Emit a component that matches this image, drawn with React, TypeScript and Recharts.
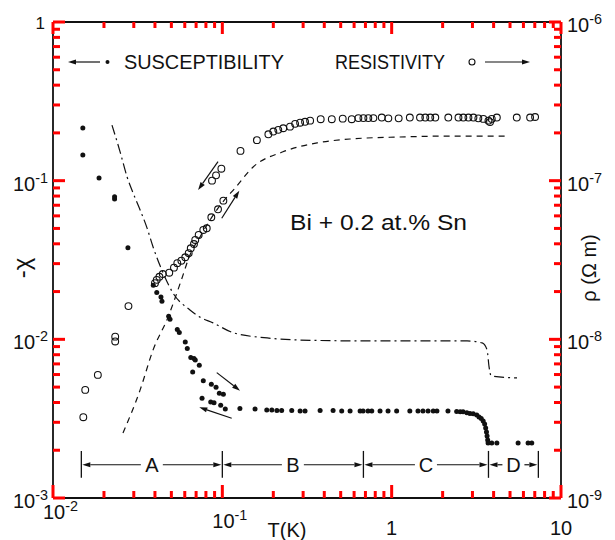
import React from "react";
import { ComposedChart, XAxis, YAxis, Scatter, Line, ReferenceLine } from "recharts";

const FONT = '"Liberation Sans", Arial, Helvetica, sans-serif';
const INK = "#111";
const TICK_INK = "red";

// axis ticks (all log decades with their 2..9 subdivisions)
const tempTicks = [
  0.01, 0.02, 0.03, 0.04, 0.05, 0.06, 0.07, 0.08, 0.09,
  0.1, 0.2, 0.3, 0.4, 0.5, 0.6, 0.7, 0.8, 0.9,
  1, 2, 3, 4, 5, 6, 7, 8, 9, 10,
];
const chiTicks = [
  0.001, 0.002, 0.003, 0.004, 0.005, 0.006, 0.007, 0.008, 0.009,
  0.01, 0.02, 0.03, 0.04, 0.05, 0.06, 0.07, 0.08, 0.09,
  0.1, 0.2, 0.3, 0.4, 0.5, 0.6, 0.7, 0.8, 0.9, 1,
];
const rhoTicks = [
  1e-9, 2e-9, 3e-9, 4e-9, 5e-9, 6e-9, 7e-9, 8e-9, 9e-9,
  1e-8, 2e-8, 3e-8, 4e-8, 5e-8, 6e-8, 7e-8, 8e-8, 9e-8,
  1e-7, 2e-7, 3e-7, 4e-7, 5e-7, 6e-7, 7e-7, 8e-7, 9e-7, 1e-6,
];

// susceptibility -chi vs T(K)  (filled dots)
const suscPoints: [number, number][] = [
  [0.0150, 0.215], [0.0150, 0.145], [0.0187, 0.104], [0.0231, 0.0793], [0.0231, 0.0767],
  [0.0277, 0.0378], [0.0391, 0.0219], [0.0410, 0.0197], [0.0434, 0.0185], [0.0440, 0.0174],
  [0.0482, 0.0140], [0.0491, 0.0134], [0.0542, 0.01155], [0.0557, 0.01105], [0.0604, 0.00963],
  [0.0621, 0.00877], [0.0651, 0.00767], [0.0680, 0.00756], [0.0692, 0.00742], [0.0731, 0.00687],
  [0.0668, 0.00623], [0.0772, 0.00549], [0.0861, 0.00522], [0.0918, 0.00499], [0.0960, 0.00457],
  [0.1014, 0.00451], [0.0759, 0.00425], [0.0854, 0.00403], [0.0893, 0.00399], [0.0978, 0.00384],
  [0.1041, 0.00364], [0.127, 0.00367], [0.156, 0.00364], [0.183, 0.00359], [0.196, 0.00359],
  [0.210, 0.00356], [0.224, 0.00356], [0.257, 0.00356], [0.288, 0.00354], [0.308, 0.00354],
  [0.378, 0.00356], [0.451, 0.00356], [0.507, 0.00354], [0.568, 0.00354], [0.651, 0.00354],
  [0.678, 0.00354], [0.725, 0.00354], [0.763, 0.00354], [0.854, 0.00354], [0.952, 0.00354],
  [1.07, 0.00354], [1.28, 0.00354], [1.43, 0.00354], [1.53, 0.00354], [1.64, 0.00354],
  [1.76, 0.00354], [1.85, 0.00354], [2.15, 0.00354], [2.42, 0.00351], [2.54, 0.00349],
  [2.64, 0.00349], [2.78, 0.00344], [2.90, 0.00341], [3.03, 0.00339], [3.18, 0.00334],
  [3.28, 0.00324], [3.38, 0.00317], [3.47, 0.00306], [3.54, 0.00293], [3.59, 0.00276],
  [3.63, 0.00261], [3.66, 0.00246], [3.69, 0.00232], [3.71, 0.00222], [3.90, 0.00222],
  [4.18, 0.00222], [5.58, 0.00222], [6.39, 0.00222], [6.72, 0.00222],
];

// resistivity rho (ohm m) vs T(K)  (open circles)
const resPoints: [number, number][] = [
  [0.0151, 3.23e-9], [0.0155, 4.8e-9], [0.0184, 5.97e-9], [0.0233, 1.04e-8], [0.0233, 9.7e-9],
  [0.0279, 1.62e-8], [0.0400, 2.26e-8], [0.0410, 2.37e-8], [0.0425, 2.48e-8], [0.0445, 2.58e-8],
  [0.0486, 2.63e-8], [0.0518, 2.83e-8], [0.0542, 3.02e-8], [0.0573, 3.13e-8], [0.0604, 3.29e-8],
  [0.0633, 3.49e-8], [0.0651, 3.75e-8], [0.0680, 3.99e-8], [0.0692, 4.23e-8], [0.0725, 4.55e-8],
  [0.0772, 4.89e-8], [0.0809, 5.01e-8], [0.0861, 5.88e-8], [0.0943, 6.6e-8], [0.1014, 7.48e-8],
  [0.0869, 1.0e-7], [0.0918, 1.08e-7], [0.0987, 1.19e-7], [0.128, 1.54e-7], [0.160, 1.8e-7],
  [0.187, 1.96e-7], [0.200, 2.04e-7], [0.214, 2.09e-7], [0.229, 2.14e-7], [0.251, 2.19e-7],
  [0.269, 2.28e-7], [0.288, 2.32e-7], [0.308, 2.35e-7], [0.330, 2.39e-7], [0.381, 2.44e-7],
  [0.443, 2.44e-7], [0.514, 2.46e-7], [0.581, 2.44e-7], [0.636, 2.48e-7], [0.681, 2.48e-7],
  [0.728, 2.48e-7], [0.780, 2.48e-7], [0.874, 2.5e-7], [0.956, 2.47e-7], [1.10, 2.47e-7],
  [1.28, 2.5e-7], [1.47, 2.5e-7], [1.58, 2.5e-7], [1.69, 2.5e-7], [1.81, 2.5e-7],
  [2.16, 2.5e-7], [2.48, 2.5e-7], [2.65, 2.5e-7], [2.84, 2.5e-7], [3.04, 2.5e-7],
  [3.25, 2.47e-7], [3.48, 2.45e-7], [3.73, 2.39e-7], [3.81, 2.34e-7], [3.90, 2.45e-7],
  [4.18, 2.5e-7], [5.48, 2.5e-7], [6.57, 2.5e-7], [7.03, 2.52e-7],
];

// dashed curve, read against the rho axis
const dashCurve: [number, number][] = [
  [0.0259, 2.57e-9], [0.0327, 4.8e-9], [0.0390, 8.58e-9], [0.0478, 1.38e-8], [0.0570, 2.33e-8],
  [0.0644, 3.4e-8], [0.0738, 4.42e-8], [0.0846, 5.65e-8], [0.0996, 7.24e-8], [0.119, 8.99e-8],
  [0.152, 1.22e-7], [0.228, 1.52e-7], [0.363, 1.73e-7], [0.568, 1.83e-7], [1.12, 1.885e-7],
  [2.21, 1.91e-7], [4.68, 1.91e-7],
];

// dash-dot curve, read against the -chi axis
const dashDotCurve: [number, number][] = [
  [0.0223, 0.224], [0.0249, 0.152], [0.0274, 0.1055], [0.0297, 0.0837], [0.0327, 0.0654],
  [0.0359, 0.0504], [0.0390, 0.0382], [0.0447, 0.0262], [0.0511, 0.0196], [0.0644, 0.0153],
  [0.0738, 0.0138], [0.0881, 0.0127], [0.116, 0.011], [0.184, 0.0102], [0.288, 0.0099],
  [0.716, 0.00977], [2.79, 0.00977], [3.42, 0.00949], [3.66, 0.00858], [3.76, 0.0067],
  [3.87, 0.00588], [5.5, 0.00571],
];

// temperature ranges A-D marked along the bottom
const regionEdges = [0.0147, 0.1, 0.681, 3.73, 7.35];
const regionNames = ["A", "B", "C", "D"];
const regionLevel = 0.00162;
const regionBar = [0.00198, 0.00134];

// hysteresis arrows [T0, y0, T1, y1] on the -chi axis
const loopArrows: [number, number, number, number][] = [
  [0.0943, 0.1317, 0.0719, 0.0874],
  [0.0992, 0.058, 0.126, 0.0865],
  [0.0927, 0.00617, 0.1272, 0.00475],
  [0.1136, 0.00318, 0.0731, 0.00373],
];

const expOf = (v: number) => Math.round(Math.log10(v));
const isMajor = (v: number) => Math.abs(Math.log10(v) - expOf(v)) < 1e-6;

function PowText({ x, y, v, anchor, size = 20 }: any) {
  const e = expOf(v);
  const common = { x, y, textAnchor: anchor, fontSize: size, fontFamily: FONT, fill: INK };
  if (e === 0) return <text {...common}>1</text>;
  if (e === 1) return <text {...common}>10</text>;
  return (
    <text {...common}>
      10<tspan dy={-8} fontSize={size * 0.72}>{"-" + Math.abs(e)}</tspan>
    </text>
  );
}

// tick marks are drawn inward from the frame
function BottomTick(p: any) {
  const { x, y, payload } = p;
  const v = payload.value;
  const major = isMajor(v);
  const e = expOf(v);
  const dy = e === -2 ? 21 : e === -1 ? 30 : 37;
  return (
    <g>
      <line x1={x} y1={y} x2={x} y2={y - (major ? 13 : 7)} stroke={TICK_INK} strokeWidth={3} />
      {major &&
        (e < 0 ? (
          <PowText x={x - 10} y={y + dy} v={v} anchor="start" />
        ) : (
          <PowText x={x} y={y + dy} v={v} anchor="middle" />
        ))}
    </g>
  );
}

function TopTick(p: any) {
  const { x, y, payload } = p;
  const major = isMajor(payload.value);
  return <line x1={x} y1={y} x2={x} y2={y + (major ? 12 : 6)} stroke={TICK_INK} strokeWidth={3} />;
}

function LeftTick(p: any) {
  const { x, y, payload } = p;
  const v = payload.value;
  const major = isMajor(v);
  const e = expOf(v);
  return (
    <g>
      <line x1={x} y1={y} x2={x + (major ? 12 : 7)} y2={y} stroke={TICK_INK} strokeWidth={3} />
      {major &&
        (e === 0 ? (
          <PowText x={x - 8} y={y + 7} v={v} anchor="end" size={17} />
        ) : (
          <PowText x={x - 5} y={y + 10} v={v} anchor="end" />
        ))}
    </g>
  );
}

function RightTick(p: any) {
  const { x, y, payload } = p;
  const v = payload.value;
  const major = isMajor(v);
  return (
    <g>
      <line x1={x} y1={y} x2={x - (major ? 12 : 7)} y2={y} stroke={TICK_INK} strokeWidth={3} />
      {major && <PowText x={x + 6} y={y + 10} v={v} anchor="start" />}
    </g>
  );
}

function arrowHead(x1: number, y1: number, x2: number, y2: number, len = 8, half = 2.6) {
  const a = Math.atan2(y2 - y1, x2 - x1);
  const bx = x2 - len * Math.cos(a);
  const by = y2 - len * Math.sin(a);
  const px = -Math.sin(a) * half;
  const py = Math.cos(a) * half;
  return { bx, by, pts: `${x2},${y2} ${bx + px},${by + py} ${bx - px},${by - py}` };
}

function ArrowShape({ x1, y1, x2, y2 }: any) {
  const h = arrowHead(x1, y1, x2, y2);
  return (
    <g>
      <line x1={x1} y1={y1} x2={h.bx} y2={h.by} stroke={INK} strokeWidth={1.2} />
      <polygon points={h.pts} fill={INK} />
    </g>
  );
}

function RegionShape({ x1, y1, x2, name }: any) {
  const mid = (x1 + x2) / 2;
  const gap = 11;
  return (
    <g>
      <ArrowShape x1={mid - gap} y1={y1} x2={x1 + 1} y2={y1} />
      <ArrowShape x1={mid + gap} y1={y1} x2={x2 - 1} y2={y1} />
      <text x={mid} y={y1 + 7} textAnchor="middle" fontSize={20} fontFamily={FONT} fill={INK}>
        {name}
      </text>
    </g>
  );
}

export default function App() {
  const chiData = suscPoints.map(([t, v]) => ({ t, v }));
  const rhoData = resPoints.map(([t, v]) => ({ t, v }));
  const dashData = dashCurve.map(([t, v]) => ({ t, v }));
  const dashDotData = dashDotCurve.map(([t, v]) => ({ t, v }));
  const axisLine = { stroke: INK, strokeWidth: 1.8 };

  return (
    <div style={{ position: "absolute", left: 0, top: 0, width: 615, height: 540, background: "#fff" }}>
      <ComposedChart width={615} height={540} margin={{ top: 21, right: 14, bottom: 12, left: 13 }}>
        <XAxis
          xAxisId="b"
          dataKey="t"
          type="number"
          scale="log"
          domain={[0.01, 10]}
          allowDataOverflow
          ticks={tempTicks}
          interval={0}
          height={30}
          tickSize={0}
          tickMargin={0}
          tickLine={false}
          axisLine={axisLine}
          tick={(p: any) => <BottomTick {...p} />}
        />
        <XAxis
          xAxisId="t"
          orientation="top"
          dataKey="t"
          type="number"
          scale="log"
          domain={[0.01, 10]}
          allowDataOverflow
          ticks={tempTicks}
          interval={0}
          height={1}
          tickSize={0}
          tickMargin={0}
          tickLine={false}
          axisLine={axisLine}
          tick={(p: any) => <TopTick {...p} />}
        />
        <YAxis
          yAxisId="chi"
          dataKey="v"
          type="number"
          scale="log"
          domain={[0.001, 1]}
          allowDataOverflow
          ticks={chiTicks}
          interval={0}
          width={40}
          tickSize={0}
          tickMargin={0}
          tickLine={false}
          axisLine={axisLine}
          tick={(p: any) => <LeftTick {...p} />}
        />
        <YAxis
          yAxisId="rho"
          orientation="right"
          dataKey="v"
          type="number"
          scale="log"
          domain={[1e-9, 1e-6]}
          allowDataOverflow
          ticks={rhoTicks}
          interval={0}
          width={40}
          tickSize={0}
          tickMargin={0}
          tickLine={false}
          axisLine={axisLine}
          tick={(p: any) => <RightTick {...p} />}
        />

        <Line
          xAxisId="b"
          yAxisId="rho"
          data={dashData}
          dataKey="v"
          type="monotone"
          stroke={INK}
          strokeWidth={1.2}
          strokeDasharray="6 5"
          dot={false}
          activeDot={false}
          isAnimationActive={false}
        />
        <Line
          xAxisId="b"
          yAxisId="chi"
          data={dashDotData}
          dataKey="v"
          type="monotone"
          stroke={INK}
          strokeWidth={1.2}
          strokeDasharray="10 4 2 4"
          dot={false}
          activeDot={false}
          isAnimationActive={false}
        />
        <Scatter
          xAxisId="b"
          yAxisId="chi"
          data={chiData}
          dataKey="v"
          isAnimationActive={false}
          shape={(p: any) => <circle cx={p.cx} cy={p.cy} r={2.5} fill={INK} />}
        />
        <Scatter
          xAxisId="b"
          yAxisId="rho"
          data={rhoData}
          dataKey="v"
          isAnimationActive={false}
          shape={(p: any) => <circle cx={p.cx} cy={p.cy} r={3.4} fill="none" stroke={INK} strokeWidth={1.1} />}
        />

        {regionEdges.map((t) => (
          <ReferenceLine
            key={"bar" + t}
            xAxisId="b"
            yAxisId="chi"
            segment={[{ x: t, y: regionBar[0] }, { x: t, y: regionBar[1] }]}
            stroke={INK}
            strokeWidth={1.3}
          />
        ))}
        {regionNames.map((name, i) => (
          <ReferenceLine
            key={"reg" + name}
            xAxisId="b"
            yAxisId="chi"
            segment={[{ x: regionEdges[i], y: regionLevel }, { x: regionEdges[i + 1], y: regionLevel }]}
            shape={(p: any) => <RegionShape {...p} name={name} />}
          />
        ))}
        {loopArrows.map(([t0, y0, t1, y1], i) => (
          <ReferenceLine
            key={"loop" + i}
            xAxisId="b"
            yAxisId="chi"
            segment={[{ x: t0, y: y0 }, { x: t1, y: y1 }]}
            shape={(p: any) => <ArrowShape {...p} />}
          />
        ))}
      </ComposedChart>

      <svg
        width={615}
        height={540}
        style={{ position: "absolute", left: 0, top: 0, pointerEvents: "none" }}
        fontFamily={FONT}
      >
        <g fill={INK}>
          <ArrowShape x1={100} y1={62} x2={68} y2={62} />
          <circle cx={107.5} cy={62} r={2} fill={INK} />
          <text x={124} y={69} fontSize={20} textLength={160} lengthAdjust="spacingAndGlyphs">
            SUSCEPTIBILITY
          </text>
          <text x={335} y={69} fontSize={20} textLength={110} lengthAdjust="spacingAndGlyphs">
            RESISTIVITY
          </text>
          <circle cx={472} cy={62} r={3} fill="none" stroke={INK} strokeWidth={1.1} />
          <ArrowShape x1={485} y1={62} x2={530} y2={62} />
          <text x={290} y={230} fontSize={22} textLength={177} lengthAdjust="spacingAndGlyphs">
            Bi + 0.2 at.% Sn
          </text>
          <text transform="translate(30,268) rotate(-90)" textAnchor="middle" fontSize={24}>
            -χ
          </text>
          <text transform="translate(596,268) rotate(-90)" textAnchor="middle" fontSize={20}>
            ρ (Ω m)
          </text>
          <text x={287} y={537} textAnchor="middle" fontSize={20}>
            T(K)
          </text>
        </g>
      </svg>
    </div>
  );
}
